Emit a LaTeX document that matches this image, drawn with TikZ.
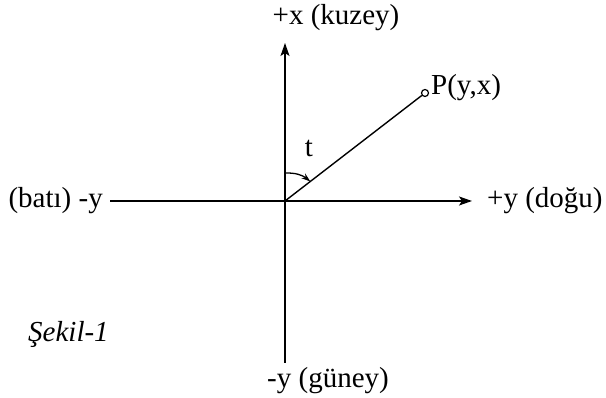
\documentclass[tikz,border=0pt]{standalone}
\usepackage{fontspec}
\setmainfont{Liberation Serif}
\usetikzlibrary{arrows.meta,calc}
\begin{document}
\begin{tikzpicture}[x=1pt,y=1pt,
  axis/.style={line width=1.5pt},
  lbl/.style={font=\fontsize{29}{34}\selectfont, inner sep=0pt},
  tip/.style={-{Stealth[length=13pt,width=9pt,inset=3pt]}}]
\useasboundingbox (0,0) rectangle (606,398);
\coordinate (O) at (285,197);
\coordinate (N) at (285,355);
\coordinate (S) at (285,35);
\coordinate (W) at (110,197);
\coordinate (E) at (472,197);
\node[circle, draw, line width=1.2pt, minimum size=7pt, inner sep=0pt] (P) at (425,305) {};
\draw[axis, tip] (S) -- (N);
\draw[axis, tip] (W) -- (E);
\draw[line width=1.4pt] (O) -- (P);
\coordinate (A) at ($(O)+(0,28)$);
\coordinate (B) at ($(O)!32pt!(P)$);
\draw[line width=1.3pt, -{Stealth[length=9pt,width=6pt]}] (A) to[bend left=20] (B);
\node[lbl] (xl) at (336,380) {+x (kuzey)};
\node[lbl] (sl) at (328,17) {-y (güney)};
\node[lbl, anchor=east] (wl) at (103,197) {(batı) -y};
\node[lbl, anchor=west] (el) at (487,197) {+y (doğu)};
\node[lbl, anchor=base west] (pl) at (431,303) {P(y,x)};
\node[lbl] (tl) at (309,250) {t};
\node[lbl, anchor=west, font=\fontsize{29}{34}\selectfont\itshape] (fig) at (28,64) {Şekil-1};
\end{tikzpicture}
\end{document}
